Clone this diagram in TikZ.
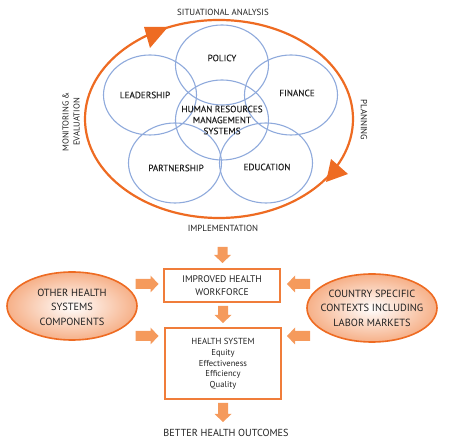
\documentclass[tikz,border=0pt]{standalone}
\usepackage{fontspec}
\setmainfont{PT Sans}
\newfontfamily\medfont[FakeBold=0.35]{PT Sans}
\usetikzlibrary{shapes.geometric}
\definecolor{ring}{HTML}{EE6B22}
\definecolor{blu}{HTML}{8FAADC}
\definecolor{arr}{HTML}{F59A5C}
\definecolor{boxo}{HTML}{F07D3A}
\definecolor{txt}{HTML}{222222}
\definecolor{peach}{HTML}{F6B088}
\newcommand\barrow[4]{\fill[arr, shift={(#1,#2)}, rotate=#3] (-#4,-5) -- (#4-8,-5) -- (#4-8,-8.5) -- (#4,0) -- (#4-8,8.5) -- (#4-8,5) -- (-#4,5) -- cycle;}
\begin{document}
\begin{tikzpicture}[x=1pt,y=1pt,
  blob/.style={draw=blu, line width=1.1pt, ellipse, minimum width=93pt, minimum height=80pt, inner sep=0pt},
  lab/.style={text=txt, font=\medfont\fontsize{9.2}{11}\selectfont, align=center, inner sep=0pt},
  small/.style={text=txt, font=\fontsize{8.9}{10}\selectfont, align=center, inner sep=0pt},
  oval/.style={ellipse, draw=ring, line width=1.6pt, inner color=white, outer color=peach, minimum width=130pt, minimum height=68pt, inner sep=0pt},
  big/.style={text=txt, font=\fontsize{10.4}{14.5}\selectfont, align=center, inner sep=0pt},
  boxA/.style={draw=boxo, line width=1.2pt, minimum width=116pt, minimum height=33pt, inner sep=0pt},
  boxB/.style={draw=boxo, line width=2pt, minimum width=116pt, minimum height=71pt, inner sep=0pt}
]
\useasboundingbox (0,0) rectangle (450,447);
% big cycle
\node[ellipse, draw=ring, line width=2.2pt, minimum width=268pt, minimum height=198pt, inner sep=0pt] (cycle) at (219,328) {};
\fill[ring] (144,420) -- (150,399) -- (168,420) -- cycle;
\fill[ring] (331,288) -- (348,273) -- (326,265) -- cycle;
% blue circles
\node[blob] (policy) at (222,382) {};
\node[blob] (lead) at (150,352) {};
\node[blob] (fin) at (291,352) {};
\node[blob] (hrms) at (222,327) {};
\node[blob] (part) at (175,284) {};
\node[blob] (edu) at (266,284) {};
\node[lab] (tpolicy) at (222,389) {POLICY};
\node[lab] (tlead) at (145,352) {LEADERSHIP};
\node[lab] (tfin) at (297,354) {FINANCE};
\node[lab] (thrms) at (222,327) {HUMAN RESOURCES\\MANAGEMENT\\SYSTEMS};
\node[lab] (tpart) at (176,279) {PARTNERSHIP};
\node[lab] (tedu) at (267,280) {EDUCATION};
% cycle labels
\node[small] (sit) at (223,435) {SITUATIONAL ANALYSIS};
\node[small] (impl) at (223,219) {IMPLEMENTATION};
\node[small, rotate=90, font=\fontsize{8.6}{11}\selectfont] (mon) at (71,325) {MONITORING \&\\EVALUATION};
\node[small, rotate=-90] (plan) at (364,327) {PLANNING};
% lower part
\node[boxA] (wf) at (222,161.5) {};
\node[small, font=\fontsize{9.6}{13}\selectfont] (twf) at (222,161.5) {IMPROVED HEALTH\\WORKFORCE};
\node[boxB] (hs) at (223,83.5) {};
\node[small, font=\fontsize{8.8}{10}\selectfont] (ths) at (223,106) {HEALTH SYSTEM};
\node[small, font=\fontsize{8.6}{10.5}\selectfont, anchor=north] (tq) at (223,97.5) {Equity\\Effectiveness\\Efficiency\\Quality};
\node[small, font=\fontsize{10.2}{12}\selectfont] (out) at (226,14) {BETTER HEALTH OUTCOMES};
\node[oval] (other) at (72,141) {};
\node[big] (tother) at (72,140) {OTHER HEALTH\\SYSTEMS\\COMPONENTS};
\node[oval] (ctry) at (372,139) {};
\node[big] (tctry) at (372,139) {COUNTRY SPECIFIC\\CONTEXTS INCLUDING\\LABOR MARKETS};
% block arrows
\barrow{222.5}{192}{-90}{8}
\barrow{223}{132.5}{-90}{8.5}
\barrow{223}{34.5}{-90}{9.5}
\barrow{147}{163}{0}{11.5}
\barrow{147}{111}{0}{11.5}
\barrow{298.5}{163}{180}{11.5}
\barrow{298.5}{111}{180}{11.5}
\end{tikzpicture}
\end{document}
